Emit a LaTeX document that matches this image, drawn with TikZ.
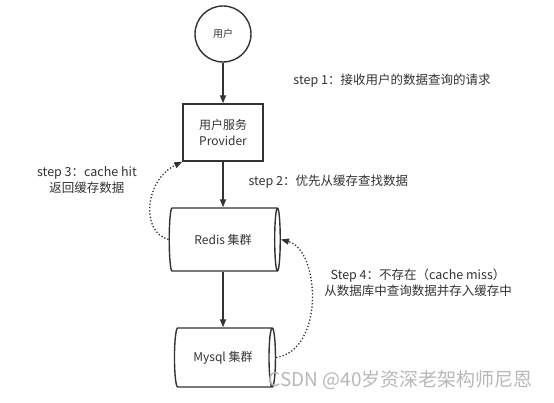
\documentclass[tikz,border=0pt]{standalone}
\usepackage{fontspec}
\setmainfont{Noto Sans CJK SC}
\usetikzlibrary{shapes.geometric,arrows.meta}
\definecolor{ink}{HTML}{333333}
\definecolor{wm}{HTML}{B8B8B8}
\begin{document}
\begin{tikzpicture}[x=1pt,y=-1pt,
  box/.style={draw=ink, line width=1.4pt, text=ink, font=\fontsize{12}{16}\selectfont, align=center},
  db/.style={box, cylinder, shape border rotate=0, aspect=0.5, inner sep=0pt},
  flow/.style={draw=ink, line width=1.4pt, -{Triangle[length=8pt,width=6pt]}},
  back/.style={draw=ink, line width=1.3pt, dotted, -{Triangle[length=8pt,width=6pt]}},
  note/.style={text=ink, font=\fontsize{12.5}{16}\selectfont, align=center}]
\useasboundingbox (0,0) rectangle (554,403);
\fill[white] (0,0) rectangle (554,403);
\node[box, circle, minimum size=56pt, inner sep=0pt, font=\fontsize{10}{12}\selectfont] (user) at (223,34) {用户};
\node[box, rectangle, minimum width=80pt, minimum height=57pt] (prov) at (223,132.5) {用户服务\\Provider};
\node[db, minimum width=63pt, minimum height=111pt] (redis) at (223,239.5) {Redis 集群};
\node[db, minimum width=59pt, minimum height=101pt] (mysql) at (223,357.5) {Mysql 集群};
\draw[flow] (user) -- (prov);
\draw[flow] (prov.south) -- (prov.south |- redis.north);
\draw[flow] (redis.south) -- (redis.south |- mysql.north);
\draw[back] (redis.west) .. controls (140,232) and (145,180) .. (prov.south west);
\draw[back] (mysql.east) .. controls (325,350) and (320,250) .. (redis.east);
\node[note] (s1) at (392,81) {step 1：接收用户的数据查询的请求};
\node[note, anchor=west] (s2) at (245,182) {step 2：优先从缓存查找数据};
\node[note] (s3) at (87,180) {step 3：cache hit\\返回缓存数据};
\node[note] (s4) at (418,283) {Step 4：不存在（cache miss）\\从数据库中查询数据并存入缓存中};
\node[text=wm, font=\fontsize{19}{22}\selectfont, anchor=west] (wmk) at (265,380) {CSDN @40岁资深老架构师尼恩};
\end{tikzpicture}
\end{document}
